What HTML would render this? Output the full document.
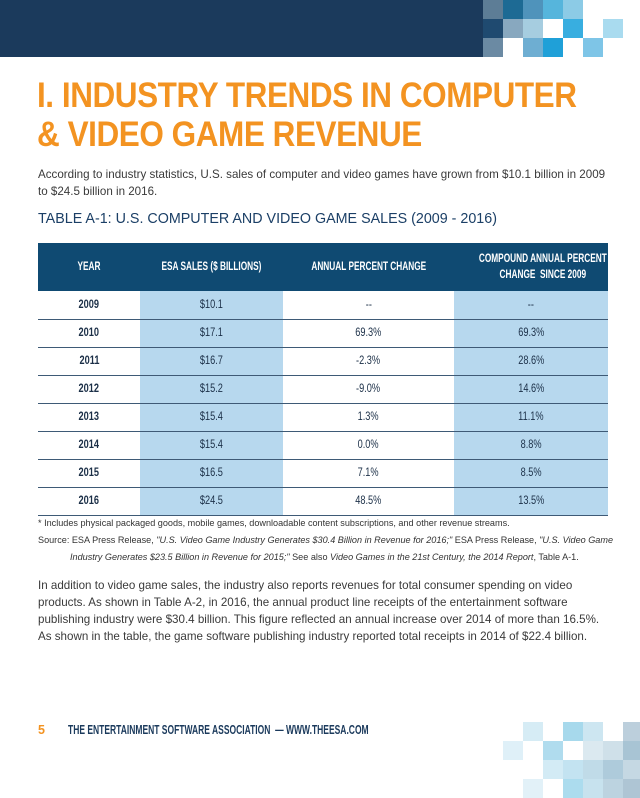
<!DOCTYPE html>
<html><head><meta charset="utf-8"><style>
*{margin:0;padding:0;box-sizing:border-box}
body{width:640px;height:796px;background:#fff;position:relative;overflow:hidden;font-family:"Liberation Sans",sans-serif;color:#333}
.abs{position:absolute}
.sq{position:absolute;width:20px;height:19px}
.c{display:inline-block;transform:scaleX(0.72);transform-origin:center;white-space:nowrap}
td .c{transform:scaleX(0.8)}
.title{left:37px;color:#f39321;font-size:35px;font-weight:bold;line-height:40px;letter-spacing:-0.5px;white-space:nowrap;transform:scaleX(0.9);transform-origin:left}
.body{left:38px;font-size:11.6px;line-height:17px;color:#3a3a3a;white-space:nowrap}
table{position:absolute;left:38px;top:243px;width:570px;border-collapse:collapse;table-layout:fixed}
th{background:#0f4a72;color:#fff;height:48px;font-size:11.5px;text-align:center;font-weight:bold;line-height:16px}
td{height:28px;text-align:center;font-size:11.5px;color:#1b2f47;border-bottom:1.5px solid #3e5a76}
td.b{background:#b7d8ee}
td.y{font-weight:bold}
.fn{left:38px;font-size:9.1px;line-height:17px;color:#333;white-space:nowrap}
</style></head><body>
<div class="abs" style="left:0;top:0;width:483px;height:57px;background:#1b3a5c"></div>
<div>
<div class="sq" style="left:483px;top:0;background:#5d7d96"></div>
<div class="sq" style="left:503px;top:0;background:#1d6a94"></div>
<div class="sq" style="left:523px;top:0;background:#4f93bb"></div>
<div class="sq" style="left:543px;top:0;background:#56b5dc"></div>
<div class="sq" style="left:563px;top:0;background:#8ccbe6"></div>
<div class="sq" style="left:483px;top:19px;background:#1f4a70"></div>
<div class="sq" style="left:503px;top:19px;background:#88a8bf"></div>
<div class="sq" style="left:523px;top:19px;background:#a6cde0"></div>
<div class="sq" style="left:563px;top:19px;background:#38aee0"></div>
<div class="sq" style="left:603px;top:19px;background:#a9dbef"></div>
<div class="sq" style="left:483px;top:38px;background:#6b8aa3"></div>
<div class="sq" style="left:523px;top:38px;background:#6eaed2"></div>
<div class="sq" style="left:543px;top:38px;background:#1fa0d8"></div>
<div class="sq" style="left:583px;top:38px;background:#7ec5e7"></div>
</div>
<div class="abs title" style="top:76px">I. INDUSTRY TRENDS IN COMPUTER</div>
<div class="abs title" style="top:115px">&amp; VIDEO GAME REVENUE</div>
<div class="abs body" style="top:166px">According to industry statistics, U.S. sales of computer and video games have grown from $10.1 billion in 2009<br>to $24.5 billion in 2016.</div>
<div class="abs" style="left:38px;top:211px;font-size:14.3px;color:#1b3f66;white-space:nowrap">TABLE A-1: U.S. COMPUTER AND VIDEO GAME SALES (2009 - 2016)</div>
<table>
<colgroup><col style="width:102px"><col style="width:143px"><col style="width:171px"><col style="width:154px"></colgroup>
<tr><th><span class="c">YEAR</span></th><th><span class="c">ESA SALES ($ BILLIONS)</span></th><th><span class="c">ANNUAL PERCENT CHANGE</span></th><th><span class="c">COMPOUND ANNUAL PERCENT<br>CHANGE &nbsp;SINCE 2009</span></th></tr>
<tr><td class="y"><span class="c">2009</span></td><td class="b"><span class="c">$10.1</span></td><td><span class="c">--</span></td><td class="b"><span class="c">--</span></td></tr>
<tr><td class="y"><span class="c">2010</span></td><td class="b"><span class="c">$17.1</span></td><td><span class="c">69.3%</span></td><td class="b"><span class="c">69.3%</span></td></tr>
<tr><td class="y"><span class="c">2011</span></td><td class="b"><span class="c">$16.7</span></td><td><span class="c">-2.3%</span></td><td class="b"><span class="c">28.6%</span></td></tr>
<tr><td class="y"><span class="c">2012</span></td><td class="b"><span class="c">$15.2</span></td><td><span class="c">-9.0%</span></td><td class="b"><span class="c">14.6%</span></td></tr>
<tr><td class="y"><span class="c">2013</span></td><td class="b"><span class="c">$15.4</span></td><td><span class="c">1.3%</span></td><td class="b"><span class="c">11.1%</span></td></tr>
<tr><td class="y"><span class="c">2014</span></td><td class="b"><span class="c">$15.4</span></td><td><span class="c">0.0%</span></td><td class="b"><span class="c">8.8%</span></td></tr>
<tr><td class="y"><span class="c">2015</span></td><td class="b"><span class="c">$16.5</span></td><td><span class="c">7.1%</span></td><td class="b"><span class="c">8.5%</span></td></tr>
<tr><td class="y"><span class="c">2016</span></td><td class="b"><span class="c">$24.5</span></td><td><span class="c">48.5%</span></td><td class="b"><span class="c">13.5%</span></td></tr>
</table>
<div class="abs fn" style="top:515px">* Includes physical packaged goods, mobile games, downloadable content subscriptions, and other revenue streams.<br>Source: ESA Press Release, <i>"U.S. Video Game Industry Generates $30.4 Billion in Revenue for 2016;"</i> ESA Press Release, <i>"U.S. Video Game</i><br><span style="margin-left:32px"><i>Industry Generates $23.5 Billion in Revenue for 2015;"</i> See also <i>Video Games in the 21st Century, the 2014 Report</i>, Table A-1.</span></div>
<div class="abs body" style="top:577px">In addition to video game sales, the industry also reports revenues for total consumer spending on video<br>products. As shown in Table A-2, in 2016, the annual product line receipts of the entertainment software<br>publishing industry were $30.4 billion. This figure reflected an annual increase over 2014 of more than 16.5%.<br>As shown in the table, the game software publishing industry reported total receipts in 2014 of $22.4 billion.</div>
<div class="abs" style="left:38px;top:723px;font-size:12.5px;font-weight:bold;color:#f39321">5</div>
<div class="abs" style="left:68px;top:723px;font-size:12.5px;font-weight:bold;color:#1b3a5c;white-space:nowrap;transform:scaleX(0.68);transform-origin:left">THE ENTERTAINMENT SOFTWARE ASSOCIATION &nbsp;— WWW.THEESA.COM</div>
<div>
<div class="sq" style="left:523px;top:722px;background:#d6ecf5"></div>
<div class="sq" style="left:563px;top:722px;background:#a7d9ec"></div>
<div class="sq" style="left:583px;top:722px;background:#cde6f1"></div>
<div class="sq" style="left:623px;top:722px;background:#bccfdc"></div>
<div class="sq" style="left:503px;top:741px;background:#dff0f8"></div>
<div class="sq" style="left:543px;top:741px;background:#b0dcee"></div>
<div class="sq" style="left:583px;top:741px;background:#dbe9f0"></div>
<div class="sq" style="left:603px;top:741px;background:#cfe0e9"></div>
<div class="sq" style="left:623px;top:741px;background:#a8c4d4"></div>
<div class="sq" style="left:543px;top:760px;background:#d3ebf5"></div>
<div class="sq" style="left:563px;top:760px;background:#c3e3f1"></div>
<div class="sq" style="left:583px;top:760px;background:#c0dbe8"></div>
<div class="sq" style="left:603px;top:760px;background:#aecbdb"></div>
<div class="sq" style="left:623px;top:760px;background:#c5d8e3"></div>
<div class="sq" style="left:523px;top:779px;background:#e2f1f8"></div>
<div class="sq" style="left:563px;top:779px;background:#acdcee"></div>
<div class="sq" style="left:583px;top:779px;background:#c7e2ee"></div>
<div class="sq" style="left:603px;top:779px;background:#bcd3e0"></div>
<div class="sq" style="left:623px;top:779px;background:#aec5d4"></div>
</div>
</body></html>
